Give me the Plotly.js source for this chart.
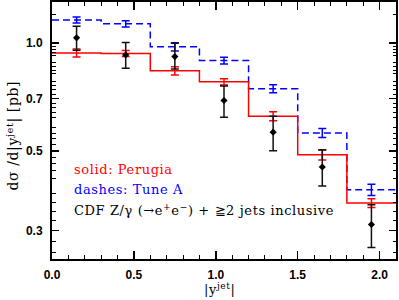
<!DOCTYPE html>
<html>
<head>
<meta charset="utf-8">
<script src="https://cdn.plot.ly/plotly-3.0.1.min.js"></script>
<style>
html,body{margin:0;padding:0;background:#fff;}
#chart{width:399px;height:300px;}
.annotation-text{letter-spacing:0.6px;}
</style>
</head>
<body>
<div id="chart"></div>
<script>
// ---- data ----
const binEdges   = [0.0, 0.3, 0.6, 0.9, 1.2, 1.5, 1.8, 2.1];
const binCenters = [0.15, 0.45, 0.75, 1.05, 1.35, 1.65, 1.95];
const perugia    = [0.938, 0.934, 0.836, 0.779, 0.625, 0.488, 0.358];
const perugiaErr = [0.024, 0.018, 0.022, 0.016, 0.018, 0.016, 0.010];
const tuneA      = [1.159, 1.130, 0.975, 0.893, 0.745, 0.561, 0.390];
const tuneAErr   = [0.022, 0.023, 0.026, 0.019, 0.019, 0.016, 0.014];
const cdf        = [1.033, 0.926, 0.916, 0.691, 0.564, 0.451, 0.312];
const cdfErrUp   = [0.079, 0.076, 0.081, 0.068, 0.061, 0.052, 0.042];
const cdfErrDown = [0.079, 0.076, 0.070, 0.070, 0.063, 0.052, 0.043];
const xTickVals  = [0, 0.5, 1.0, 1.5, 2.0];
const xTickText  = ['0.0', '0.5', '1.0', '1.5', '2.0'];
const yTickVals  = [0.3, 0.5, 0.7, 1.0];
const yTickText  = ['0.3', '0.5', '0.7', '1.0'];
const yMajorUnlabeled = [0.4, 0.6, 0.8, 0.9];
const labels = ['solid: Perugia', 'dashes: Tune A', 'CDF Z/γ (→e<sup>+</sup>e<sup>−</sup>) + ≧2 jets inclusive'];

// minor tick positions
const xMinor = [];
for (let i = 1; i <= 20; i++) { if (i % 5 !== 0) xMinor.push(+(i * 0.1).toFixed(2)); }
const yMinor = [];
for (let i = 13; i <= 49; i++) { if (i % 5 !== 0) yMinor.push(+(i * 0.02).toFixed(2)); }
yMinor.push(1.2);

const stepY = arr => arr.concat([arr[arr.length - 1]]);

const serif = 'DejaVu Serif, serif';
const sans = 'Liberation Sans, Arial, sans-serif';

const traces = [
  {x: binEdges, y: stepY(tuneA), mode: 'lines', line: {shape: 'hv', color: '#0000ff', width: 1.5, dash: '7px,4px'}, hoverinfo: 'skip'},
  {x: binCenters, y: tuneA, mode: 'markers', marker: {size: 1, color: 'rgba(0,0,0,0)'},
   error_y: {type: 'data', array: tuneAErr, color: '#0000ff', thickness: 1.5, width: 4}},
  {x: binEdges, y: stepY(perugia), mode: 'lines', line: {shape: 'hv', color: '#ff0000', width: 1.5}, hoverinfo: 'skip'},
  {x: binCenters, y: perugia, mode: 'markers', marker: {size: 1, color: 'rgba(0,0,0,0)'},
   error_y: {type: 'data', array: perugiaErr, color: '#ff0000', thickness: 1.5, width: 4}},
  {x: binCenters, y: cdf, mode: 'markers', marker: {symbol: 'diamond', size: 5.5, color: '#000'},
   error_y: {type: 'data', symmetric: false, array: cdfErrUp, arrayminus: cdfErrDown, color: '#111', thickness: 1.5, width: 4}}
];

const px2paperX = px => (px - 51.5) / 344.5;
const px2paperY = py => (259 - py) / 257;
const yRange = [Math.log10(0.25), Math.log10(1.3)];

const layout = {
  width: 399, height: 300,
  margin: {l: 51.5, r: 3, t: 2, b: 41},
  paper_bgcolor: '#fff', plot_bgcolor: '#fff',
  showlegend: false,
  xaxis: {
    range: [0, 2.1], showgrid: false, zeroline: false,
    showline: true, linewidth: 2, linecolor: '#000', mirror: 'allticks',
    ticks: 'inside', ticklen: 8, tickwidth: 1.5, tickcolor: '#000',
    tickmode: 'array', tickvals: xTickVals, ticktext: xTickText,
    tickfont: {family: sans, size: 12, color: '#000', weight: 'bold'},
    ticklabelstandoff: 4,
    minor: {tickmode: 'array', tickvals: xMinor, ticks: 'inside', ticklen: 4, tickwidth: 1, tickcolor: '#000', showgrid: false}
  },
  yaxis: {
    type: 'log', range: yRange, showgrid: false, zeroline: false,
    showline: true, linewidth: 2, linecolor: '#000', mirror: 'allticks',
    ticks: 'inside', ticklen: 7, tickwidth: 1.5, tickcolor: '#000',
    tickmode: 'array', tickvals: yTickVals, ticktext: yTickText,
    tickfont: {family: sans, size: 12, color: '#000', weight: 'bold'},
    ticklabelstandoff: 5,
    minor: {tickmode: 'array', tickvals: yMinor, ticks: 'inside', ticklen: 3.5, tickwidth: 1, tickcolor: '#000', showgrid: false}
  },
  yaxis2: {
    type: 'log', range: yRange, overlaying: 'y', side: 'left', showgrid: false, zeroline: false,
    showline: true, linewidth: 2, linecolor: '#000', mirror: 'allticks',
    ticks: 'inside', ticklen: 7, tickwidth: 1.5, tickcolor: '#000',
    tickmode: 'array', tickvals: yMajorUnlabeled, showticklabels: false
  },
  annotations: [
    {text: labels[0], x: px2paperX(72), y: px2paperY(169), xref: 'paper', yref: 'paper', xanchor: 'left', yanchor: 'middle', showarrow: false, font: {family: serif, size: 13, color: '#ff0000'}},
    {text: labels[1], x: px2paperX(72), y: px2paperY(189.5), xref: 'paper', yref: 'paper', xanchor: 'left', yanchor: 'middle', showarrow: false, font: {family: serif, size: 13, color: '#0000ff'}},
    {text: labels[2], x: px2paperX(72), y: px2paperY(210), xref: 'paper', yref: 'paper', xanchor: 'left', yanchor: 'middle', showarrow: false, font: {family: serif, size: 13, color: '#000'}},
    {text: '|y<sup>jet</sup>|', x: px2paperX(220), y: px2paperY(289), xref: 'paper', yref: 'paper', xanchor: 'center', yanchor: 'middle', showarrow: false, font: {family: serif, size: 13, color: '#000'}},
    {text: 'dσ /d|y<sup>jet</sup>| [pb]', x: px2paperX(13), y: px2paperY(136), xref: 'paper', yref: 'paper', xanchor: 'center', yanchor: 'middle', textangle: -90, showarrow: false, font: {family: serif, size: 14, color: '#000'}}
  ]
};

Plotly.newPlot('chart', traces, layout, {displayModeBar: false, staticPlot: true});
</script>
</body>
</html>
